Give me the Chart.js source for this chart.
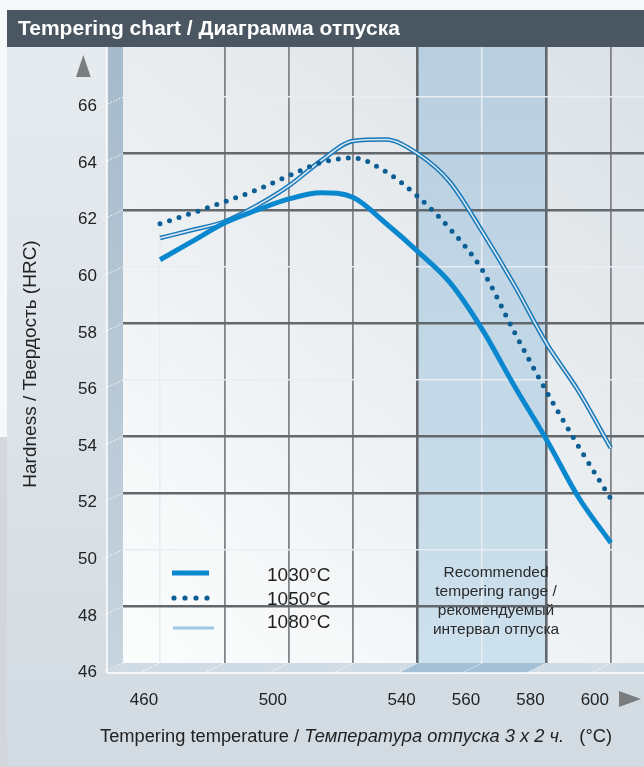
<!DOCTYPE html>
<html>
<head>
<meta charset="utf-8">
<script src="https://cdn.jsdelivr.net/npm/chart.js"></script>
<style>
  html, body { margin: 0; padding: 0; background: #f7f8f9; }
  canvas { display: block; }
</style>
</head>
<body>
<canvas id="temperChart" width="644" height="767"></canvas>
<script>
// values (HRC at each tempering temperature)
const temps = [460, 470, 480, 490, 500, 510, 520, 530, 540, 550, 560, 570, 580, 590, 600];
const hrc1030 = [60.25, 60.9, 61.55, 62.0, 62.4, 62.62, 62.45, 61.55, 60.55, 59.45, 57.8, 55.8, 53.9, 51.85, 50.25];
const hrc1050 = [61.52, 61.9, 62.3, 62.72, 63.22, 63.68, 63.85, 63.37, 62.49, 61.35, 59.9, 57.7, 55.6, 53.65, 51.8];
const hrc1080 = [61.02, 61.3, 61.6, 62.16, 62.86, 63.75, 64.45, 64.5, 64.0, 63.0, 61.26, 59.36, 57.3, 55.6, 53.6];

const seriesNames = ["1030°C", "1050°C", "1080°C"];
const xTicks = [460, 480, 500, 520, 540, 560, 580, 600];
const xLabels = ["460", "", "500", "", "540", "560", "580", "600"];
const yTicks = [46, 48, 50, 52, 54, 56, 58, 60, 62, 64, 66];
const rangeFrom = 540;
const rangeTo = 580;
const rangeText = ["Recommended", "tempering range /", "рекомендуемый", "интервал отпуска"];

const FONT = "'Liberation Sans', Arial, sans-serif";
const C1030 = "#0a88cf";
const C1050 = "#0b5f95";
const C1080 = "#1878b8";

// grid line looks, by tick value
const xGridStyle = { 460: "light", 480: "mid", 500: "mid", 520: "mid", 540: "dark", 560: "light", 580: "dark", 600: "mid" };
const yGridStyle = { 46: "none", 48: "dark", 50: "light", 52: "dark", 54: "dark", 56: "light", 58: "dark", 60: "light", 62: "dark", 64: "dark", 66: "light" };
const gridColor = { light: "#e7edf2", mid: "#80858a", dark: "#63686c", none: "rgba(0,0,0,0)" };
const gridWidth = { light: 1.5, mid: 1.8, dark: 2.6, none: 0 };

function toPoints(ys) {
  return temps.map((t, i) => ({ x: t, y: ys[i] }));
}

const backdrop = {
  id: "backdrop",
  beforeDraw(chart) {
    const { ctx, chartArea: a, scales } = chart;
    const x = scales.x;
    const W = chart.width, H = chart.height;
    ctx.save();

    // page + outer panels
    ctx.fillStyle = "#f7f8f9";
    ctx.fillRect(0, 0, W, H);
    ctx.fillStyle = "#d3d7db";
    ctx.fillRect(0, 437, 7, H - 437);
    let g = ctx.createLinearGradient(0, a.top, 0, H);
    g.addColorStop(0, "#e6ebef");
    g.addColorStop(1, "#d2dbe2");
    ctx.fillStyle = g;
    ctx.fillRect(7, a.top, W - 7, H - a.top);

    // title bar
    ctx.fillStyle = "#4a5762";
    ctx.fillRect(7, 10, W - 7, a.top - 10);
    ctx.fillStyle = "#ffffff";
    ctx.font = "bold 21px " + FONT;
    ctx.textBaseline = "middle";
    ctx.fillText("Tempering chart / Диаграмма отпуска", 18, 29);

    // back wall
    g = ctx.createLinearGradient(a.left, a.bottom, a.right, a.top);
    g.addColorStop(0, "#fcfdfd");
    g.addColorStop(1, "#dbe1e6");
    ctx.fillStyle = g;
    ctx.fillRect(a.left, a.top, a.right - a.left, a.bottom - a.top);

    // recommended range band
    const bx0 = x.getPixelForValue(rangeFrom), bx1 = x.getPixelForValue(rangeTo);
    g = ctx.createLinearGradient(0, a.top, 0, a.bottom);
    g.addColorStop(0, "#b8cfe0");
    g.addColorStop(1, "#cde0ed");
    ctx.fillStyle = g;
    ctx.fillRect(bx0, a.top, bx1 - bx0, a.bottom - a.top);

    // side wall
    const dx = -16, dy = 10;
    g = ctx.createLinearGradient(0, a.top, 0, a.bottom);
    g.addColorStop(0, "#a6bacb");
    g.addColorStop(1, "#c7d4de");
    ctx.fillStyle = g;
    ctx.beginPath();
    ctx.moveTo(a.left + dx, a.top);
    ctx.lineTo(a.left, a.top);
    ctx.lineTo(a.left, a.bottom);
    ctx.lineTo(a.left + dx, a.bottom + dy);
    ctx.closePath();
    ctx.fill();

    // floor
    ctx.fillStyle = "#d0dce5";
    ctx.beginPath();
    ctx.moveTo(a.left, a.bottom);
    ctx.lineTo(a.right, a.bottom);
    ctx.lineTo(a.right, a.bottom + dy);
    ctx.lineTo(a.left + dx, a.bottom + dy);
    ctx.closePath();
    ctx.fill();
    ctx.fillStyle = "#a3c0d6";
    ctx.beginPath();
    ctx.moveTo(bx0, a.bottom);
    ctx.lineTo(bx1, a.bottom);
    ctx.lineTo(bx1 - 20, a.bottom + dy);
    ctx.lineTo(bx0 - 20, a.bottom + dy);
    ctx.closePath();
    ctx.fill();

    // front edges
    ctx.strokeStyle = "#ffffff";
    ctx.lineWidth = 1.5;
    ctx.beginPath();
    ctx.moveTo(a.left + dx, a.top);
    ctx.lineTo(a.left + dx, a.bottom + dy);
    ctx.lineTo(a.right, a.bottom + dy);
    ctx.stroke();

    // slanted tick marks on the walls
    ctx.setLineDash([1.5, 1.5]);
    ctx.lineWidth = 1;
    ctx.strokeStyle = "rgba(255,255,255,0.9)";
    yTicks.forEach((v) => {
      const py = scales.y.getPixelForValue(v);
      ctx.beginPath();
      ctx.moveTo(a.left, py);
      ctx.lineTo(a.left + dx - 4, py + 9);
      ctx.stroke();
    });
    xTicks.forEach((v) => {
      const px = x.getPixelForValue(v);
      ctx.beginPath();
      ctx.moveTo(px, a.bottom);
      ctx.lineTo(px - 20, a.bottom + dy);
      ctx.stroke();
    });
    ctx.setLineDash([]);

    // axis arrows
    ctx.fillStyle = "#7a7c7e";
    ctx.beginPath();
    ctx.moveTo(76, 77);
    ctx.lineTo(90.7, 77);
    ctx.lineTo(83.3, 55);
    ctx.closePath();
    ctx.fill();
    ctx.beginPath();
    ctx.moveTo(619, 691);
    ctx.lineTo(619, 707);
    ctx.lineTo(641, 699);
    ctx.closePath();
    ctx.fill();

    // axis titles
    ctx.fillStyle = "#222";
    ctx.textBaseline = "middle";
    ctx.textAlign = "center";
    ctx.save();
    ctx.translate(31, 364);
    ctx.rotate(-Math.PI / 2);
    ctx.font = "19px " + FONT;
    ctx.fillText("Hardness / Твердость (HRC)", 0, 0);
    ctx.restore();

    ctx.textAlign = "left";
    ctx.textBaseline = "alphabetic";
    const parts = [
      ["Tempering temperature / ", "normal"],
      ["Температура отпуска 3 х 2 ч.", "italic"],
      ["   (°C)", "normal"],
    ];
    let tx = 100;
    parts.forEach(([s, st]) => {
      ctx.font = st + " 18.3px " + FONT;
      ctx.fillText(s, tx, 742);
      tx += ctx.measureText(s).width;
    });
    ctx.restore();
  },
  afterDatasetsDraw(chart) {
    const { ctx, scales } = chart;
    ctx.save();
    // legend
    ctx.lineCap = "butt";
    ctx.strokeStyle = C1030;
    ctx.lineWidth = 5;
    ctx.beginPath();
    ctx.moveTo(172, 573);
    ctx.lineTo(209, 573);
    ctx.stroke();
    ctx.fillStyle = C1050;
    [174, 185, 196, 207].forEach((px) => {
      ctx.beginPath();
      ctx.arc(px, 598, 2.6, 0, Math.PI * 2);
      ctx.fill();
    });
    ctx.strokeStyle = "#9fc8e6";
    ctx.lineWidth = 3;
    ctx.beginPath();
    ctx.moveTo(173, 628);
    ctx.lineTo(214, 628);
    ctx.stroke();

    ctx.fillStyle = "#1e1e1e";
    ctx.font = "19px " + FONT;
    ctx.textBaseline = "middle";
    ctx.textAlign = "left";
    seriesNames.forEach((s, i) => ctx.fillText(s, 267, 576 + i * 23.5));

    // range note
    const cx = (scales.x.getPixelForValue(rangeFrom) + scales.x.getPixelForValue(rangeTo)) / 2 + 14;
    ctx.font = "15.5px " + FONT;
    ctx.textAlign = "center";
    ctx.fillStyle = "#2a2a2a";
    rangeText.forEach((s, i) => ctx.fillText(s, cx, 573 + i * 19));
    ctx.restore();
  },
};

const ctx = document.getElementById("temperChart").getContext("2d");
new Chart(ctx, {
  type: "line",
  data: {
    datasets: [
      {
        label: seriesNames[2],
        data: toPoints(hrc1080),
        borderColor: C1080,
        borderWidth: 4.6,
        cubicInterpolationMode: "monotone",
        pointRadius: 0,
        order: 4,
      },
      {
        label: seriesNames[2] + " inner",
        data: toPoints(hrc1080),
        borderColor: "rgba(226,237,245,0.95)",
        borderWidth: 1.6,
        cubicInterpolationMode: "monotone",
        pointRadius: 0,
        order: 3,
      },
      {
        label: seriesNames[0],
        data: toPoints(hrc1030),
        borderColor: C1030,
        borderWidth: 5,
        cubicInterpolationMode: "monotone",
        pointRadius: 0,
        order: 2,
      },
      {
        label: seriesNames[1],
        data: toPoints(hrc1050),
        borderColor: C1050,
        borderWidth: 5,
        borderDash: [0, 10],
        borderCapStyle: "round",
        cubicInterpolationMode: "monotone",
        pointRadius: 0,
        order: 1,
      },
    ],
  },
  options: {
    responsive: false,
    animation: false,
    layout: { padding: { top: 47, left: 0, right: 0, bottom: 0 } },
    plugins: {
      legend: { display: false },
      tooltip: { enabled: false },
    },
    scales: {
      x: {
        type: "linear",
        min: 448.5,
        max: 610.3,
        afterBuildTicks: (scale) => {
          scale.ticks = xTicks.map((v) => ({ value: v }));
        },
        afterFit: (scale) => {
          scale.height = 104;
          scale.paddingLeft = 0;
          scale.paddingRight = 0;
        },
        border: { display: false },
        grid: {
          drawTicks: false,
          color: (c) => gridColor[xGridStyle[c.tick.value]],
          lineWidth: (c) => gridWidth[xGridStyle[c.tick.value]],
        },
        ticks: {
          autoSkip: false,
          maxRotation: 0,
          padding: 27,
          labelOffset: -16,
          color: "#222",
          font: { family: FONT, size: 17 },
          callback: (v) => xLabels[xTicks.indexOf(v)],
        },
      },
      y: {
        min: 46,
        max: 67.77,
        afterBuildTicks: (scale) => {
          scale.ticks = yTicks.map((v) => ({ value: v }));
        },
        afterFit: (scale) => {
          scale.width = 123;
          scale.paddingTop = 0;
          scale.paddingBottom = 0;
        },
        border: { display: false },
        grid: {
          drawTicks: false,
          color: (c) => gridColor[yGridStyle[c.tick.value]],
          lineWidth: (c) => gridWidth[yGridStyle[c.tick.value]],
        },
        ticks: {
          autoSkip: false,
          padding: 26,
          labelOffset: 9.5,
          color: "#222",
          font: { family: FONT, size: 17 },
        },
      },
    },
  },
  plugins: [backdrop],
});
</script>
</body>
</html>
